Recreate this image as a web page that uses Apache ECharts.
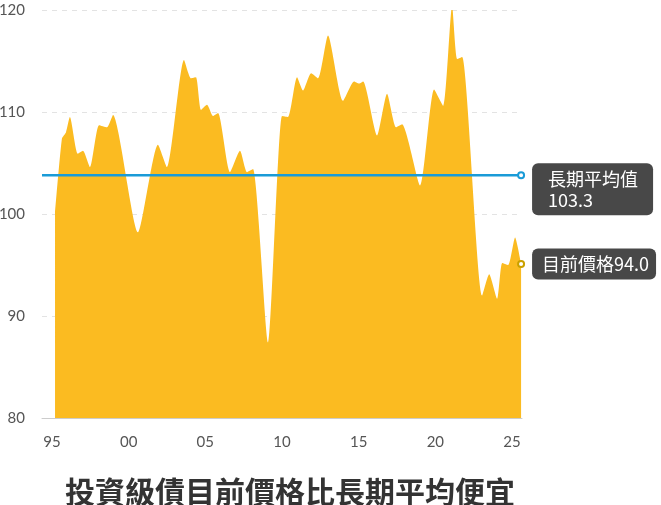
<!DOCTYPE html>
<html>
<head>
<meta charset="utf-8">
<script src="https://cdn.jsdelivr.net/npm/echarts@6/dist/echarts.min.js"></script>
<style>
html,body{margin:0;padding:0;background:#fff;}
#chart{width:661px;height:505px;}
</style>
</head>
<body>
<div id="chart"></div>
<script>
// Time (fractional year) and price index values
const years = [1995.20, 1995.65, 1995.91, 1996.17, 1996.68, 1997.02, 1997.48, 1998.07, 1998.59, 1998.98,
  2000.61, 2001.91, 2002.50, 2003.61, 2004.07, 2004.39, 2004.72, 2005.11, 2005.50, 2005.83,
  2006.61, 2007.26, 2007.72, 2008.11, 2009.09, 2010.00, 2010.39, 2010.98, 2011.37, 2011.90,
  2012.35, 2013.00, 2013.98, 2014.70, 2015.03, 2015.29, 2016.20, 2016.85, 2017.44, 2017.83,
  2019.01, 2019.92, 2020.51, 2021.09, 2021.42, 2021.75, 2023.05, 2023.51, 2024.03, 2024.36,
  2024.75, 2025.20, 2025.59];
const values = [100.0, 107.4, 108.0, 109.5, 105.9, 106.2, 104.6, 108.7, 108.5, 109.7,
  98.2, 106.8, 104.6, 115.1, 113.3, 113.4, 110.2, 110.7, 109.6, 109.9,
  104.1, 106.2, 104.1, 104.4, 87.4, 109.6, 109.5, 113.4, 112.1, 113.8,
  113.3, 117.5, 111.1, 113.0, 112.8, 113.0, 107.7, 111.8, 108.5, 108.8,
  102.8, 112.2, 110.6, 120.4, 115.2, 115.4, 92.0, 94.1, 91.7, 95.2,
  95.0, 97.7, 95.1];
const avgLevel = 103.8;
const avgLabel = ['長期平均值', '103.3'];
const currentLabel = '目前價格94.0';
const xTicks = [1995, 2000, 2005, 2010, 2015, 2020, 2025];
const yTicks = [80, 90, 100, 110, 120];
const titleText = '投資級債目前價格比長期平均便宜';

const xMin = 1994.35, xMax = 2025.65;
const areaData = years.map((y, i) => [y, values[i]]);
const lastYear = years[years.length - 1];
const lastVal = values[values.length - 1];

const chart = echarts.init(document.getElementById('chart'), null, {renderer: 'canvas'});
chart.setOption({
  animation: false,
  backgroundColor: '#ffffff',
  title: {
    text: titleText,
    left: 60,
    top: 472,
    textStyle: {fontFamily: 'Noto Sans CJK TC', fontSize: 30, fontWeight: 'bold', color: '#333333'}
  },
  grid: {left: 42, right: 139, top: 10, bottom: 87, containLabel: false, outerBoundsMode: 'none'},
  xAxis: {
    type: 'value', min: xMin, max: xMax,
    axisLine: {show: true, lineStyle: {color: '#cccccc', width: 1}},
    axisTick: {show: false},
    splitLine: {show: false},
    axisLabel: {
      customValues: xTicks,
      margin: 17,
      fontFamily: 'Lato', fontSize: 15, color: '#555555',
      formatter: v => String(Math.round(v) % 100).padStart(2, '0')
    }
  },
  yAxis: {
    type: 'value', min: 80, max: 120, interval: 10,
    axisLine: {show: false}, axisTick: {show: false},
    splitLine: {show: true, lineStyle: {color: '#e3e3e3', type: [5, 5], width: 1}},
    axisLabel: {margin: 17, fontFamily: 'Lato', fontSize: 15, color: '#555555',
      formatter: v => yTicks.includes(v) ? String(v) : ''}
  },
  series: [
    {
      type: 'line',
      data: areaData,
      smooth: 0.2,
      symbol: 'none',
      lineStyle: {width: 0, color: '#FBBB21'},
      areaStyle: {color: '#FBBB21', opacity: 1},
      z: 2
    },
    {
      type: 'line',
      data: [
        {value: [xMin, avgLevel], symbol: 'none'},
        {value: [lastYear, avgLevel], symbol: 'emptyCircle', symbolSize: 6,
          label: {
            show: true, position: 'right', distance: 7, offset: [0, 14],
            formatter: avgLabel.join('\n'),
            color: '#ffffff', fontFamily: 'Noto Sans CJK TC', fontSize: 18, lineHeight: 21,
            backgroundColor: '#484848', borderRadius: 6, padding: [5, 15, 5, 16], align: 'left'
          }}
      ],
      showAllSymbol: true,
      lineStyle: {width: 2.5, color: '#1A9BD7'},
      itemStyle: {color: '#1A9BD7', borderWidth: 2},
      z: 4
    },
    {
      type: 'line',
      data: [
        {value: [lastYear, lastVal], symbol: 'emptyCircle', symbolSize: 6,
          label: {
            show: true, position: 'right', distance: 7,
            formatter: currentLabel,
            color: '#ffffff', fontFamily: 'Noto Sans CJK TC', fontSize: 18, lineHeight: 21,
            backgroundColor: '#484848', borderRadius: 6, padding: [5, 7, 5, 10]
          }}
      ],
      lineStyle: {width: 0},
      itemStyle: {color: '#C9A000', borderWidth: 2},
      z: 4
    }
  ]
});
</script>
</body>
</html>
